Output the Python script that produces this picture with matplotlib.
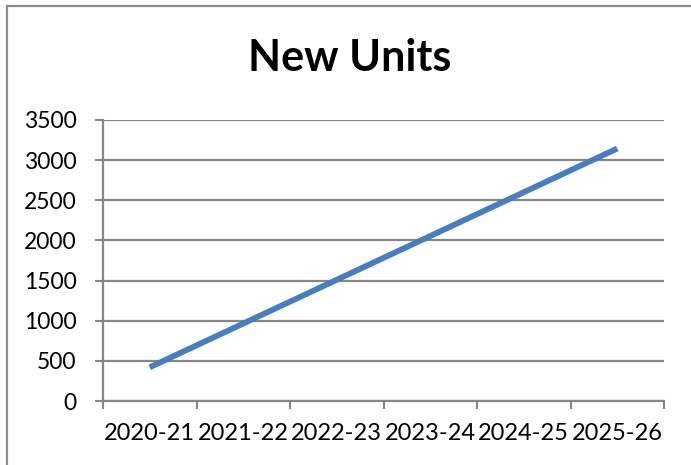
import matplotlib.pyplot as plt
import numpy as np
from matplotlib.patches import Rectangle

years = ["2020-21", "2021-22", "2022-23", "2023-24", "2024-25", "2025-26"]
new_units = [420, 965, 1510, 2055, 2600, 3145]
y_ticks = [0, 500, 1000, 1500, 2000, 2500, 3000, 3500]

plt.rcParams["font.family"] = ["Lato", "DejaVu Sans"]

GRID = "#878787"
BLUE = "#4a7ebb"

fig = plt.figure(figsize=(6.91, 4.65), dpi=100)
ax = fig.add_axes([103 / 691, 64 / 465, 561 / 691, 281 / 465])

x = np.arange(len(years)) + 0.5
ax.plot(x, new_units, color=BLUE, lw=4.2, solid_capstyle="butt", zorder=3)

ax.set_xlim(0, len(years))
ax.set_ylim(0, 3500)
ax.set_yticks(y_ticks)
ax.set_yticklabels([str(v) for v in y_ticks], fontsize=16.5)
ax.set_xticks(np.arange(len(years) + 1))
ax.set_xticklabels([])
ax.set_xticks(x, minor=True)
ax.set_xticklabels(years, minor=True, fontsize=17)

ax.tick_params(axis="y", length=6, width=1.5, color=GRID, pad=13)
ax.tick_params(axis="x", which="major", length=6, width=1.5, color=GRID)
ax.tick_params(axis="x", which="minor", length=0, pad=16)

ax.grid(axis="y", color=GRID, lw=1.6, zorder=1)
ax.set_axisbelow(True)
for side in ["top", "right"]:
    ax.spines[side].set_visible(False)
for side in ["left", "bottom"]:
    ax.spines[side].set_color(GRID)
    ax.spines[side].set_linewidth(1.6)

fig.text(350 / 691, 1 - 58 / 465, "New Units", ha="center", va="center",
         fontsize=31, fontweight="bold")

fig.patches.append(Rectangle((7 / 691, -0.1), 1.1, 1 - 6 / 465 + 0.1,
                             transform=fig.transFigure, fill=False,
                             edgecolor="#8c8c8c", lw=1.6, clip_on=False))

fig.savefig("out.png", dpi=100)
